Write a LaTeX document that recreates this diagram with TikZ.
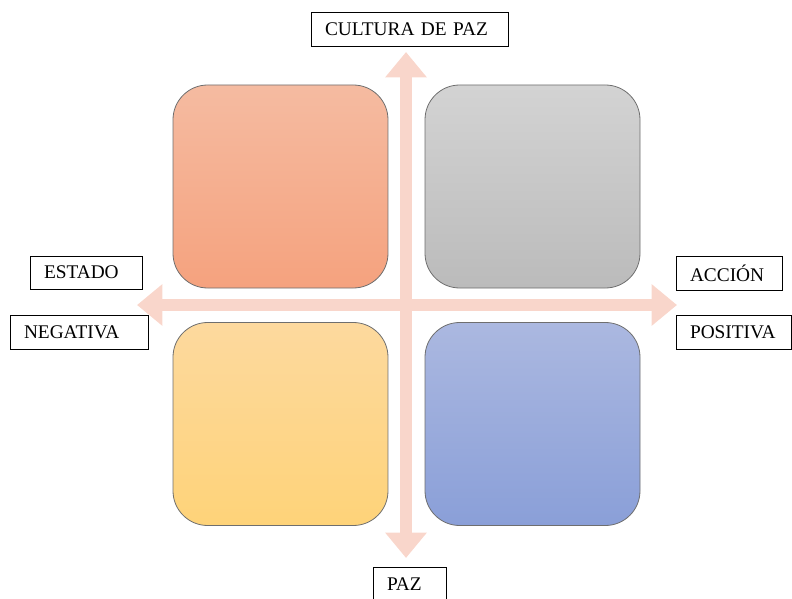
\documentclass[tikz,border=0pt]{standalone}
\usepackage{fontspec}
\setmainfont{Liberation Serif}
\usetikzlibrary{arrows.meta}
\definecolor{axiscol}{HTML}{F9D6CB}
\definecolor{orT}{HTML}{F5BBA1}\definecolor{orB}{HTML}{F5A27E}
\definecolor{grT}{HTML}{D3D3D3}\definecolor{grB}{HTML}{BBBBBB}
\definecolor{yeT}{HTML}{FDD99E}\definecolor{yeB}{HTML}{FED379}
\definecolor{blT}{HTML}{ABB8E0}\definecolor{blB}{HTML}{8A9FD8}
\definecolor{edge}{HTML}{6E6E6E}
\begin{document}
\begin{tikzpicture}[x=0.75pt,y=-0.75pt,
  quad/.style={draw=edge, line width=0.6pt, rounded corners=26pt,
    minimum width=161.25pt, minimum height=152.25pt, inner sep=0pt},
  lab/.style={draw=black, line width=0.6pt, inner ysep=0pt, inner xsep=10.5pt,
    font=\fontsize{14.5}{16}\selectfont, minimum height=25.5pt, align=left},
  axis/.style={draw=axiscol, line width=9pt,
    {Triangle[width=30pt,length=19pt]}-{Triangle[width=30pt,length=19pt]}}
]
\useasboundingbox (0,0) rectangle (792,599);
% axes
\coordinate (vtop) at (406,52);
\coordinate (vbot) at (406,558);
\coordinate (hleft) at (137,305);
\coordinate (hright) at (677,305);
\draw[axis] (vtop) -- (vbot);
\draw[axis] (hleft) -- (hright);
% quadrants
\node[quad, top color=orT, bottom color=orB] (q1) at (280.5,186.5) {};
\node[quad, top color=grT, bottom color=grB] (q2) at (532.5,186.5) {};
\node[quad, top color=yeT, bottom color=yeB] (q3) at (280.5,424) {};
\node[quad, top color=blT, bottom color=blB] (q4) at (532.5,424) {};
% labels
\node[lab, text width=126.75pt] (cult) at (409.5,29) {CULTURA DE PAZ};
\node[lab, text width=63pt, minimum height=24.75pt] (est) at (86,272.5) {ESTADO};
\node[lab, text width=82.5pt] (neg) at (79,332) {NEGATIVA};
\node[lab, text width=58.5pt] (acc) at (729,273) {ACCIÓN};
\node[lab, text width=65.25pt] (pos) at (733.5,332) {POSITIVA};
\node[lab, text width=33.75pt] (paz) at (409.5,584) {PAZ};
\end{tikzpicture}
\end{document}
